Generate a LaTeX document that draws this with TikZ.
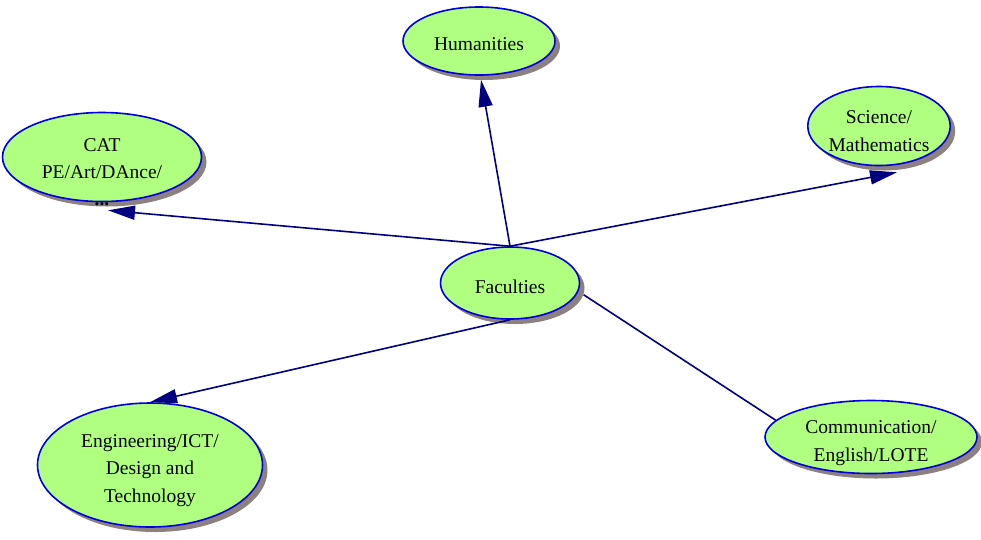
\documentclass[tikz,border=0pt]{standalone}
\usepackage{fontspec}
\setmainfont{Liberation Serif}
\usetikzlibrary{shapes.geometric,shadows,arrows.meta}
\definecolor{leafgreen}{RGB}{176,255,128}
\definecolor{rimblue}{RGB}{0,0,220}
\definecolor{linknavy}{RGB}{0,0,128}
\definecolor{shadowgrey}{RGB}{140,128,128}
% text block lowered by #1 inside the ellipse
\newcommand\factext[2]{\raisebox{#1}[0pt][0pt]{\begin{tabular}[t]{@{}c@{}}#2\end{tabular}}}

\begin{document}
\begin{tikzpicture}[x=1pt,y=-1pt,
	faculty/.style={ellipse,draw=rimblue,line width=1.6pt,fill=leafgreen,inner sep=0pt,
		font=\fontsize{19.5}{27.5}\selectfont,
		drop shadow={shadow xshift=5pt,shadow yshift=-5pt,fill=shadowgrey,opacity=1}},
	link/.style={draw=linknavy,line width=1.6pt,-{Triangle[length=27pt,width=14pt]}}]
		\useasboundingbox (0,0) rectangle (981,539);

		\node[faculty,minimum width=139pt,minimum height=72pt] (fac) at (510,283) {\factext{-10.5pt}{Faculties}};
		\node[faculty,minimum width=152pt,minimum height=68pt] (hum) at (479,41) {\factext{-9.5pt}{Humanities}};
		\node[faculty,minimum width=199pt,minimum height=89pt,
			label={[anchor=center,yshift=-2pt,inner sep=0pt,font=\fontsize{19.5}{20}\selectfont\bfseries]south:...}] (cat) at (102,157) {\factext{5.75pt}{CAT\\PE/Art/DAnce/}};
		\node[faculty,minimum width=138pt,minimum height=79pt] (sci) at (879,126) {\factext{2.25pt}{Science/\\Mathematics}};
		\node[faculty,minimum width=225pt,minimum height=124pt] (eng) at (150,465) {\factext{18pt}{Engineering/ICT/\\Design and\\Technology}};
		\node[faculty,minimum width=212pt,minimum height=73pt] (com) at (871,437) {\factext{3.25pt}{Communication/\\English/LOTE}};

		\draw[link] (fac.north) -- ([xshift=2pt,yshift=-4pt]hum.south);
		\draw[link] (fac.north) -- ([xshift=6pt,yshift=-8pt]cat.south);
		\draw[link] (fac.north) -- ([xshift=18pt,yshift=-6pt]sci.south);
		\draw[link] (fac.south) -- (eng.north);
		\draw[draw=linknavy,line width=1.6pt] ([xshift=7pt]fac.-10) -- (com.170);

	\end{tikzpicture}
\end{document}
